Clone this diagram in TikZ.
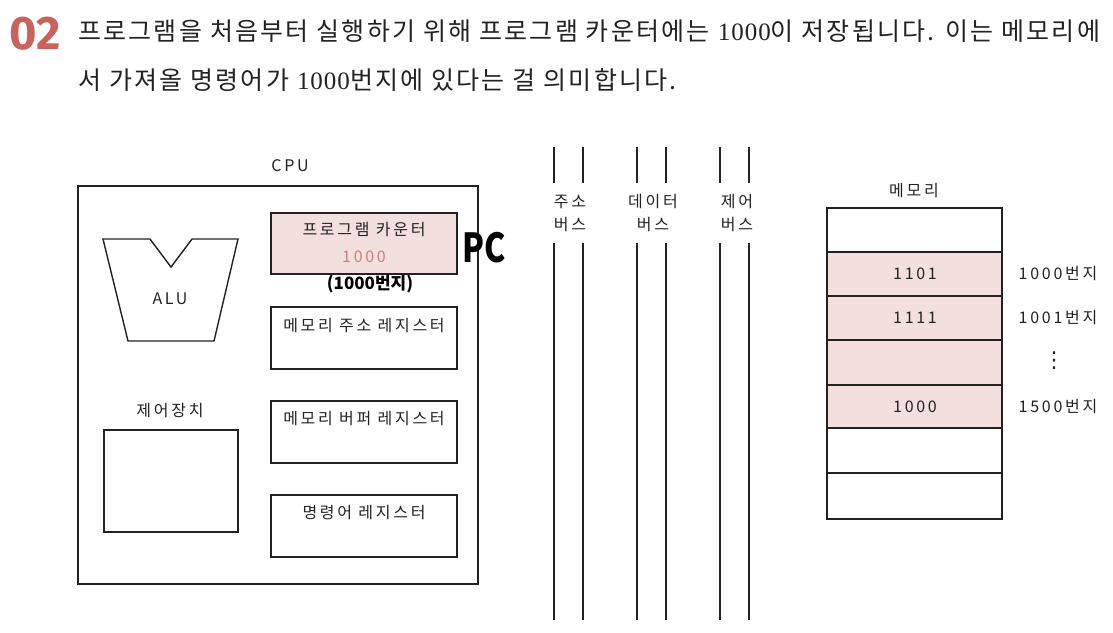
\documentclass[tikz,border=0pt]{standalone}
\usepackage{fontspec}
\setmainfont{Noto Sans CJK KR}
\newfontfamily\numfont{Fira Sans}
\newfontfamily\serifnum[LetterSpace=4]{Liberation Serif}
\newfontfamily\bodyfont[LetterSpace=9]{Noto Sans CJK KR}
\newfontfamily\hand[LetterSpace=17]{Noto Sans CJK KR}
\newfontfamily\symfont{DejaVu Sans}
\definecolor{accent}{HTML}{C9625A}
\definecolor{pinkfill}{HTML}{F3DFDD}
\definecolor{ink}{HTML}{222222}
\definecolor{numred}{HTML}{C8827A}
\begin{document}
\begin{tikzpicture}[x=1pt,y=-1pt,
  box/.style={draw=ink,line width=1.4pt},
  lbl/.style={text=ink,font=\hand\fontsize{16}{19}\selectfont,inner sep=0pt},
  body/.style={text=ink,font=\bodyfont\fontsize{25}{29}\selectfont,anchor=west,inner sep=0pt},
  busline/.style={draw=ink,line width=1.4pt}]
\useasboundingbox (0,0) rectangle (1113,632);
\fill[white] (0,0) rectangle (1113,632);

% header
\node[anchor=west,inner sep=0pt,text=accent] (num) at (9,34)
  {\numfont\bfseries\fontsize{47}{47}\selectfont 02};
\node[body] (l1) at (78,31) {프로그램을 처음부터 실행하기 위해 프로그램 카운터에는 {\serifnum 1000}이 저장됩니다. 이는 메모리에};
\node[body] (l2) at (78,80) {서 가져올 명령어가 {\serifnum 1000}번지에 있다는 걸 의미합니다.};

% CPU
\node[lbl] (cpulbl) at (290,166) {CPU};
\draw[box] (78,186) rectangle (478,584);

% ALU
\draw[box] (103,239) -- (150,239) -- (171,267) -- (192,239) -- (238,239) -- (214,341) -- (128,341) -- cycle;
\node[lbl] (alu) at (170,299) {ALU};

% registers
\draw[box,fill=pinkfill] (271,213) rectangle (457,274);
\node[lbl] (pc) at (364,230) {프로그램 카운터};
\node[lbl,text=numred] (pcval) at (364,257) {1000};
\node[inner sep=0pt,text=black] (pcnote) at (484,248)
  {\scalebox{0.8}[1]{\bfseries\fontsize{40}{40}\selectfont PC}};
\node[inner sep=0pt,text=black,font=\bfseries\fontsize{17}{17}\selectfont] (addrnote) at (370,284) {(1000번지)};

\draw[box] (271,307) rectangle (457,369);
\node[lbl] (mar) at (364,326) {메모리 주소 레지스터};
\draw[box] (271,401) rectangle (457,463);
\node[lbl] (mbr) at (364,419) {메모리 버퍼 레지스터};
\draw[box] (271,495) rectangle (457,557);
\node[lbl] (ir) at (364,513) {명령어 레지스터};

% control unit
\node[lbl] (culbl) at (170,411) {제어장치};
\draw[box] (104,430) rectangle (238,532);

% buses
\foreach \x in {554,583,637,666,720,749}{
  \draw[busline] (\x,147) -- (\x,183);
  \draw[busline] (\x,243) -- (\x,620);
}
\node[lbl,align=center,font=\hand\fontsize{16}{23}\selectfont] (abus) at (570,213) {주소\\버스};
\node[lbl,align=center,font=\hand\fontsize{16}{23}\selectfont] (dbus) at (653,213) {데이터\\버스};
\node[lbl,align=center,font=\hand\fontsize{16}{23}\selectfont] (cbus) at (737,213) {제어\\버스};

% memory
\node[lbl] (memlbl) at (914,191) {메모리};
\fill[pinkfill] (827,252) rectangle (1002,428);
\draw[box] (827,208) rectangle (1002,519);
\foreach \y in {252,296,340,385,428,473}{
  \draw[box] (827,\y) -- (1002,\y);
}
\node[lbl] (m1) at (915,274) {1101};
\node[lbl] (m2) at (915,318) {1111};
\node[lbl] (m4) at (915,407) {1000};
\node[lbl] (a1) at (1058,274) {1000번지};
\node[lbl] (a2) at (1058,318) {1001번지};
\node[inner sep=0pt,text=ink,font=\symfont\fontsize{22}{22}\selectfont] (a3) at (1054,361) {⋮};
\node[lbl] (a4) at (1058,407) {1500번지};
\end{tikzpicture}
\end{document}
